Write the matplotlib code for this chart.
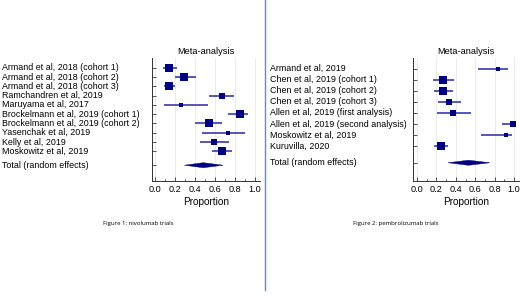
import matplotlib.pyplot as plt
import matplotlib.transforms as mtransforms
from matplotlib.lines import Line2D
from matplotlib.patches import Polygon
import numpy as np

plt.rcParams['font.family'] = ['Liberation Sans', 'DejaVu Sans']

# nivolumab trials
nivo_studies = ["Armand et al, 2018 (cohort 1)", "Armand et al, 2018 (cohort 2)",
                "Armand et al, 2018 (cohort 3)", "Ramchandren et al, 2019",
                "Maruyama et al, 2017", "Brockelmann et al, 2019 (cohort 1)",
                "Brockelmann et al, 2019 (cohort 2)", "Yasenchak et al, 2019",
                "Kelly et al, 2019", "Moskowitz et al, 2019"]
nivo_est = [0.14, 0.29, 0.14, 0.67, 0.26, 0.85, 0.54, 0.73, 0.59, 0.67]
nivo_lo = [0.08, 0.20, 0.09, 0.54, 0.09, 0.73, 0.40, 0.47, 0.45, 0.57]
nivo_hi = [0.22, 0.41, 0.20, 0.79, 0.53, 0.93, 0.67, 0.90, 0.74, 0.77]
nivo_w = [11.5, 10.0, 11.5, 8.0, 2.4, 10.0, 10.0, 2.4, 8.0, 11.5]
nivo_total = (0.29, 0.48, 0.68)

# pembrolizumab trials
pembro_studies = ["Armand et al, 2019", "Chen et al, 2019 (cohort 1)",
                  "Chen et al, 2019 (cohort 2)", "Chen et al, 2019 (cohort 3)",
                  "Allen et al, 2019 (first analysis)", "Allen et al, 2019 (second analysis)",
                  "Moskowitz et al, 2019", "Kuruvilla, 2020"]
pembro_est = [0.83, 0.27, 0.27, 0.33, 0.37, 0.99, 0.92, 0.25]
pembro_lo = [0.63, 0.17, 0.18, 0.22, 0.21, 0.88, 0.66, 0.18]
pembro_hi = [0.94, 0.38, 0.37, 0.45, 0.56, 1.02, 0.98, 0.32]
pembro_w = [3.5, 13.0, 13.0, 9.5, 7.0, 7.0, 2.0, 11.5]
pembro_total = (0.32, 0.53, 0.75)

W, H = 520, 303
fig = plt.figure(figsize=(W / 100, H / 100), dpi=100)

navy = '#000080'
ci_col = '#5555bb'


def forest(ax, studies, est, lo, hi, w, total, total_y, ylim, xlim, label_x, dh):
    n = len(studies)
    ys = np.arange(n)
    ax.hlines(ys, lo, hi, color=ci_col, lw=1.4, zorder=2)
    for y, e, wt in zip(ys, est, w):
        ax.plot(e, y, 's', color=navy, ms=1.6 * np.sqrt(wt), mew=0, zorder=3)
    tl, te, th = total
    ax.add_patch(Polygon([(tl, total_y), (te, total_y - dh), (th, total_y), (te, total_y + dh)],
                         closed=True, fc=navy, ec=navy, lw=0.3, zorder=3))
    ax.set_xlim(*xlim)
    ax.set_ylim(*ylim)
    ax.set_xticks(np.arange(0, 1.01, 0.2))
    ax.set_xticks(np.arange(0.1, 1.0, 0.2), minor=True)
    ax.set_xticklabels(["0.0", "0.2", "0.4", "0.6", "0.8", "1.0"])
    ax.set_yticks(list(ys) + [total_y])
    ax.set_yticklabels([])
    ax.tick_params(axis='both', direction='in', length=3, width=0.6, color='#333333',
                   labelsize=6.6, pad=3)
    ax.tick_params(axis='x', which='minor', direction='in', length=1.5, width=0.5)
    ax.grid(axis='x', color='#e8e8e8', lw=0.6)
    ax.set_axisbelow(True)
    for s in ['top', 'right']:
        ax.spines[s].set_visible(False)
    for s in ['left', 'bottom']:
        ax.spines[s].set_color('#333333')
        ax.spines[s].set_linewidth(0.7)
    ax.set_title("Meta-analysis", fontsize=6.7, pad=3)
    ax.set_xlabel("Proportion", fontsize=7.2, labelpad=2)
    tr = mtransforms.blended_transform_factory(fig.transFigure, ax.transData)
    for y, s in zip(ys, studies):
        ax.text(label_x, y, s, transform=tr, ha='left', va='center', fontsize=6.4)
    ax.text(label_x, total_y, "Total (random effects)", transform=tr, ha='left',
            va='center', fontsize=6.4)


ax1 = fig.add_axes([152 / W, 1 - 181 / H, 108 / W, 123 / H])
forest(ax1, nivo_studies, nivo_est, nivo_lo, nivo_hi, nivo_w, nivo_total,
       10.5, (12.2, -1.05), (-0.035, 1.05), 2 / W, 0.27)

ax2 = fig.add_axes([413 / W, 1 - 181 / H, 106 / W, 123 / H])
forest(ax2, pembro_studies, pembro_est, pembro_lo, pembro_hi, pembro_w, pembro_total,
       8.5, (10.15, -0.97), (-0.04, 1.05), 270 / W, 0.23)

fig.text(138 / W, 1 - 223 / H, "Figure 1: nivolumab trials", ha='center', va='center',
         fontsize=4.3, family=['Open Sans', 'DejaVu Sans'])
fig.text(396 / W, 1 - 223 / H, "Figure 2: pembrolizumab trials", ha='center', va='center',
         fontsize=4.3, family=['Open Sans', 'DejaVu Sans'])

fig.add_artist(Line2D([264.5 / W, 264.5 / W], [1, 1 - 290 / H], transform=fig.transFigure,
                      color='#5f8ad8', lw=1.0))

fig.savefig('out.png', dpi=100)
